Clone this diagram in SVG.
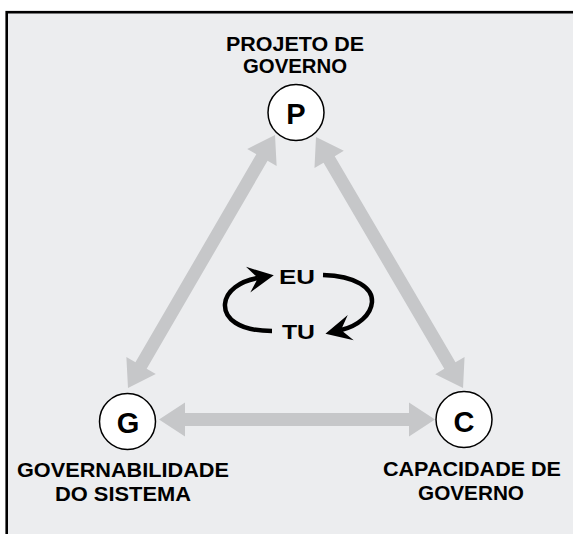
<svg xmlns="http://www.w3.org/2000/svg" width="573" height="534" viewBox="0 0 573 534">
<defs>
<style>
.lbl{font-family:"Liberation Sans",Arial,sans-serif;font-weight:bold;font-size:20px;fill:#000;text-anchor:middle}
.let{font-family:"Liberation Sans",Arial,sans-serif;font-weight:bold;font-size:29px;fill:#000;text-anchor:middle}
.node circle{fill:#fff;stroke:#000;stroke-width:1.5}
.big{fill:#C6C7C9}
.cyc{fill:none;stroke:#000;stroke-width:4.5}
</style>
<marker id="ah" markerUnits="userSpaceOnUse" markerWidth="40" markerHeight="40" refX="10" refY="0" orient="auto" overflow="visible">
<path d="M26,0 L0,-13 L10,0 L0,13 Z" fill="#000"/>
</marker>
</defs>
<rect x="0" y="0" width="573" height="534" fill="#fff"/>
<rect x="6.7" y="12.2" width="580" height="540" fill="#ECEDEF" stroke="#000" stroke-width="2.6"/>
<g id="connectors">
<polygon class="big" transform="translate(159,419.5)" points="0,0 26,-17 26,-6.5 250,-6.5 250,-17 276,0 250,17 250,6.5 26,6.5 26,17"/>
<polygon class="big" transform="translate(128,388) rotate(-59.84)" points="0,0 26,-17 26,-6.5 266.6,-6.5 266.6,-17 292.6,0 266.6,17 266.6,6.5 26,6.5 26,17"/>
<polygon class="big" transform="translate(316,137) rotate(59.64)" points="0,0 26,-17 26,-6.5 264.9,-6.5 264.9,-17 290.9,0 264.9,17 264.9,6.5 26,6.5 26,17"/>
<path class="cyc" d="M272,331 C238,331 224,318 225,304 C226,291 240,281 258,278" marker-end="url(#ah)"/>
<path class="cyc" d="M323,275 C356,276 373,288 372,302 C371,315 358,326 341,330" marker-end="url(#ah)"/>
</g>
<g id="cycle-labels">
<text class="lbl" x="297" y="284" textLength="36" lengthAdjust="spacingAndGlyphs">EU</text>
<text class="lbl" x="298.5" y="339" textLength="33" lengthAdjust="spacingAndGlyphs">TU</text>
</g>
<g id="node-P" class="node">
<circle cx="296" cy="112.5" r="28"/>
<text class="let" x="296" y="124">P</text>
<text class="lbl" x="295" y="51" textLength="138" lengthAdjust="spacingAndGlyphs">PROJETO DE</text>
<text class="lbl" x="295" y="73" textLength="104" lengthAdjust="spacingAndGlyphs">GOVERNO</text>
</g>
<g id="node-G" class="node">
<circle cx="127.5" cy="421.5" r="28"/>
<text class="let" x="128" y="433">G</text>
<text class="lbl" x="123" y="476.5" textLength="212" lengthAdjust="spacingAndGlyphs">GOVERNABILIDADE</text>
<text class="lbl" x="123" y="500.5" textLength="136" lengthAdjust="spacingAndGlyphs">DO SISTEMA</text>
</g>
<g id="node-C" class="node">
<circle cx="464" cy="419.5" r="28"/>
<text class="let" x="464" y="431.5">C</text>
<text class="lbl" x="472" y="475.5" textLength="178" lengthAdjust="spacingAndGlyphs">CAPACIDADE DE</text>
<text class="lbl" x="471" y="500" textLength="106" lengthAdjust="spacingAndGlyphs">GOVERNO</text>
</g>
</svg>
